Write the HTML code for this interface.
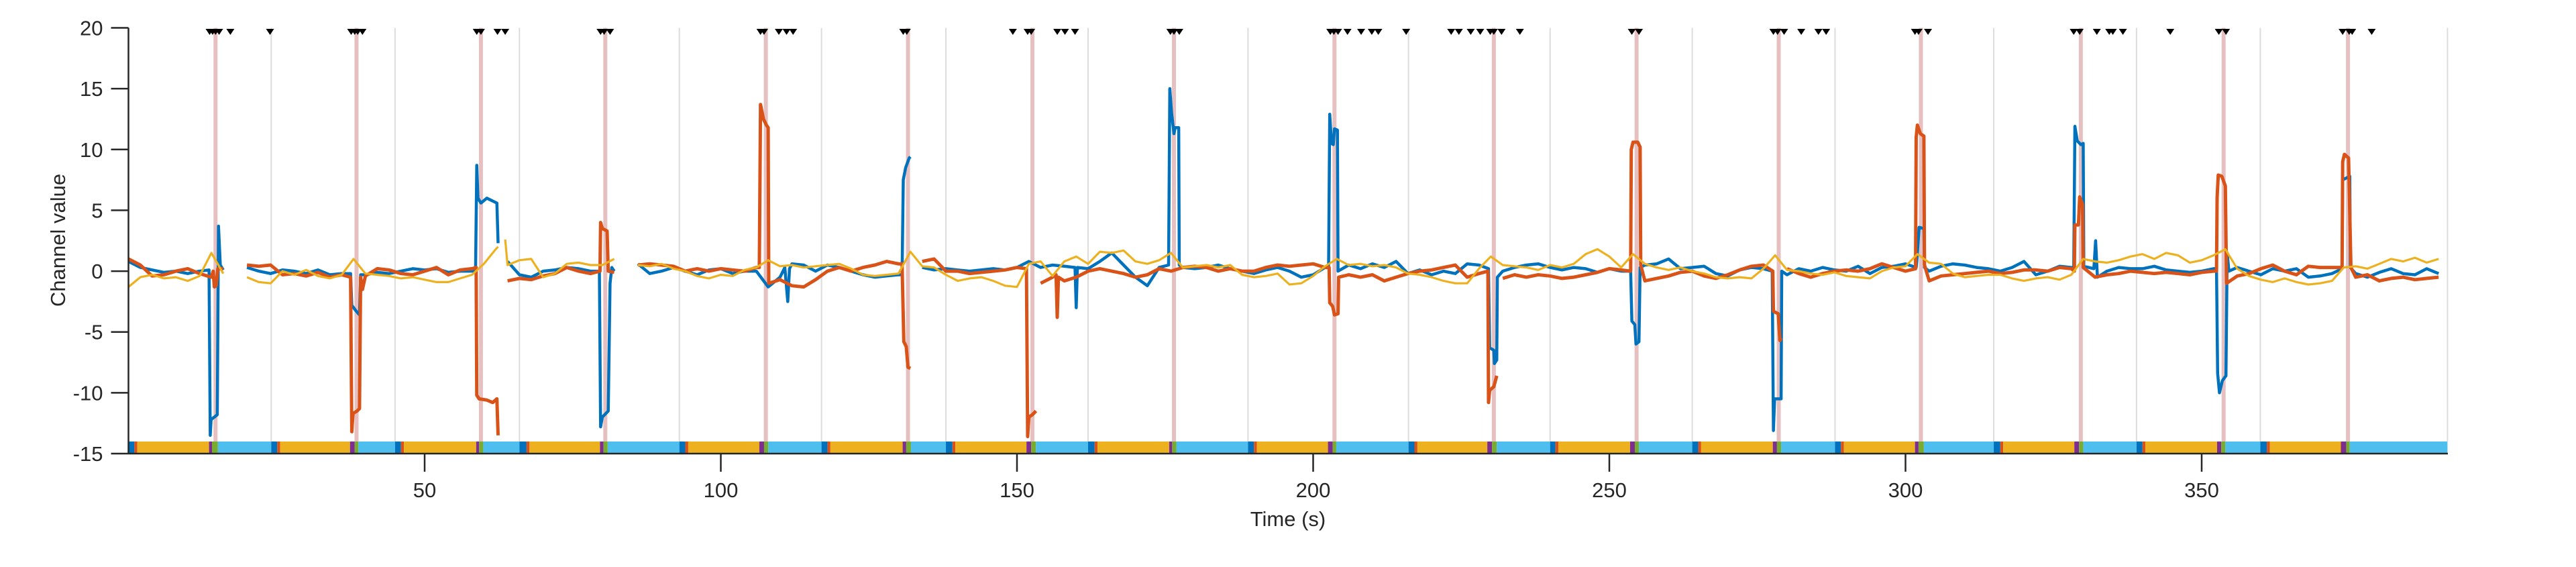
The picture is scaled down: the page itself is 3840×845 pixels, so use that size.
<!DOCTYPE html>
<html><head><meta charset="utf-8"><title>Channel value over time</title>
<style>
html,body{margin:0;padding:0;background:#fff;}
svg{display:block;}
text{font-family:"Liberation Sans",Arial,sans-serif;fill:#262626;}
</style></head>
<body>
<svg id="chart" width="3840" height="845" viewBox="0 0 3840 845" xmlns="http://www.w3.org/2000/svg">
<g id="grid"></g>
<g id="events"></g>
<g id="bar"></g>
<g id="series"></g>
<g id="markers"></g>
<g id="axes"></g>
<text x="0" y="0" font-size="31" text-anchor="middle" transform="translate(97,358) rotate(-90)">Channel value</text>
<text x="1920" y="784" font-size="31" text-anchor="middle">Time (s)</text>
</svg>
<script>
const xTicks = [50,100,150,200,250,300,350];
const yTicks = [-15,-10,-5,0,5,10,15,20];
const trialStart = [0,24.1,45.0,66.0,93.0,117.0,138.0,162.0,189.0,216.1,240.0,264.0,288.1,314.9,339.0,359.9];
const yellowStart = [1.5,25.6,46.5,67.7,94.5,118.5,139.6,163.6,190.5,217.6,241.4,265.5,289.6,316.5,340.5,361.5];
const purpleStart = [13.6,37.4,58.7,79.6,106.5,130.7,151.6,175.7,202.5,229.4,253.5,277.6,301.6,328.5,352.6,373.5];
const greenStart = [14.1,38.2,59.2,80.2,107.3,131.3,152.4,176.2,203.3,230.2,254.3,278.3,302.2,329.3,353.3,374.4];
const greenEnd = [15.1,38.8,59.9,80.9,108.0,132.1,153.2,176.9,203.9,231.0,255.0,279.0,303.1,330.0,354.0,375.0];
const eventTimes = [14.7,38.5,59.5,80.5,107.6,131.6,152.6,176.5,203.6,230.5,254.6,278.6,302.6,329.6,353.7,374.7];
const markerTimes = [13.7,14.2,14.7,15.3,17.2,23.9,37.6,38.2,38.7,39.5,58.8,59.5,62.3,63.6,79.7,80.3,81.3,106.7,107.3,109.8,111.1,112.2,130.8,131.4,149.3,151.8,152.4,156.8,158.1,159.8,175.9,176.5,177.4,202.9,203.5,204.2,205.8,208.1,209.9,211.0,215.7,223.3,224.6,226.6,228.2,229.9,230.5,231.8,234.9,253.8,255.0,277.7,278.4,279.5,282.4,285.3,286.6,301.6,302.2,303.8,328.4,329.4,332.3,334.4,335.0,336.7,344.7,352.9,354.1,373.8,374.9,375.4,378.7];
const tEnd = 391.5;
const baseStep = 2;
const blueBase = [0.8,0.3,0.1,-0.1,0.0,-0.2,0.0,0.0,0.1,-0.3,0.3,0.0,-0.2,0.1,0.0,-0.2,0.1,-0.3,-0.2,-0.2,-0.3,-0.1,-0.2,0.0,0.2,0.1,0.2,-0.1,0.0,0.0,0.0,0.0,0.8,-0.3,-0.5,0.0,0.1,0.3,0.2,0.0,0.0,0.0,0.8,0.6,-0.2,0.0,0.3,0.0,-0.3,0.1,0.2,-0.2,0.0,0.0,-1.3,-0.5,0.6,0.5,0.0,0.5,0.3,0.0,-0.3,-0.5,-0.4,-0.3,0.2,0.3,0.1,0.2,0.1,0.0,0.1,0.2,0.1,0.3,0.8,0.3,0.5,0.4,0.3,0.2,0.8,1.5,0.5,-0.5,-1.2,0.3,0.0,0.3,0.2,0.3,0.5,0.2,0.0,-0.2,0.1,0.3,0.0,-0.5,-0.3,0.3,0.0,0.5,0.2,0.6,0.3,0.8,-0.2,0.1,-0.3,0.0,-0.2,0.6,0.5,0.0,0.0,0.3,0.5,0.6,0.3,0.1,0.3,0.2,-0.1,0.2,0.0,0.0,0.5,0.6,1.0,0.2,0.3,0.4,-0.2,-0.4,0.1,0.3,0.2,0.0,-0.3,0.2,0.0,0.3,0.1,0.0,0.4,-0.2,0.3,0.4,0.6,0.0,0.0,0.4,0.6,0.5,0.3,0.2,0.0,0.3,0.8,-0.3,0.0,0.4,0.3,0.5,-0.5,0.0,0.3,0.2,0.2,0.4,0.1,0.0,-0.1,0.0,0.2,0.0,0.3,0.0,-0.3,0.2,0.0,0.2,-0.5,-0.4,-0.2,0.2,-0.2,-0.5,-0.1,0.2,-0.2,-0.3,0.2,-0.2];
const orangeBase = [1.0,0.5,-0.4,-0.3,0.0,0.2,-0.2,-0.5,0.2,0.0,0.5,0.4,0.5,-0.3,-0.2,-0.4,-0.1,-0.5,-0.3,-0.5,-0.4,0.2,0.1,-0.2,-0.3,0.0,0.3,-0.3,0.1,0.2,0.0,0.0,-0.8,-0.6,-0.7,-0.4,-0.2,0.3,0.0,-0.2,0.0,-0.1,-0.8,0.5,0.6,0.5,0.4,0.0,0.2,0.0,0.2,0.1,0.0,0.3,-1.0,-0.7,-1.2,-1.3,-0.7,0.0,0.3,0.0,0.3,0.5,0.8,0.6,-0.5,0.8,1.0,0.0,0.0,-0.2,-0.1,0.0,0.1,0.3,0.0,-1.0,-0.5,-0.8,-0.5,0.0,0.2,0.0,-0.2,-0.5,-0.3,0.2,0.0,0.3,0.4,0.3,0.0,0.2,0.0,0.0,0.3,0.5,0.4,0.5,0.6,0.3,-0.5,-0.3,-0.5,-0.3,-0.8,-0.5,-0.2,0.0,0.1,0.3,0.5,-0.5,-0.2,0.0,-0.6,-0.3,-0.5,-0.3,-0.4,-0.6,-0.5,-0.3,-0.1,0.2,0.1,0.0,-0.8,-0.6,-0.4,-0.1,0.0,-0.4,-0.6,-0.3,0.1,0.4,0.5,0.0,0.2,-0.2,-0.5,-0.2,0.0,0.1,0.0,0.2,0.6,0.3,0.0,0.0,-0.8,-0.4,-0.3,-0.2,-0.1,0.0,-0.2,-0.1,0.1,0.1,0.0,0.3,0.2,-0.6,-0.5,-0.3,-0.2,0.0,-0.1,-0.2,-0.1,-0.2,-0.3,-0.1,0.0,0.0,-0.4,-0.2,0.2,0.5,0.0,-0.3,0.4,0.3,0.3,0.0,-0.5,-0.3,-0.8,-0.6,-0.5,-0.7,-0.6,-0.5];
const yellowBase = [-1.3,-0.5,-0.3,-0.6,-0.5,-0.8,-0.4,1.5,-0.2,-0.3,-0.5,-0.9,-1.0,0.0,-0.3,0.1,-0.4,-0.6,-0.3,1.0,-0.2,-0.3,-0.4,-0.6,-0.5,-0.7,-0.9,-0.9,-0.6,-0.3,0.6,1.8,0.5,0.9,1.0,-0.5,-0.2,0.6,0.7,0.5,0.5,1.0,0.6,0.5,0.4,0.6,0.2,0.0,-0.4,-0.6,-0.3,-0.4,0.1,0.3,0.9,0.4,0.5,0.3,0.4,0.5,0.6,0.2,-0.3,-0.4,-0.3,-0.2,1.6,0.4,0.3,-0.3,-0.8,-0.6,-0.5,-0.8,-1.2,-1.3,0.6,0.8,-0.4,0.8,1.2,0.6,1.6,1.5,1.7,0.8,0.6,0.9,1.5,0.3,0.4,0.5,0.3,0.5,-0.3,-0.5,-0.4,-0.2,-1.1,-1.0,-0.4,0.4,1.0,0.5,0.6,0.4,0.5,0.3,-0.2,-0.3,-0.5,-0.8,-1.0,-1.0,0.2,1.2,0.5,0.4,0.3,0.1,0.5,0.3,0.6,1.4,1.8,1.2,0.3,1.4,0.6,0.3,0.1,0.3,0.0,-0.2,-0.5,-0.6,-0.5,-0.6,0.2,1.3,0.1,0.0,-0.2,-0.3,-0.1,-0.4,-0.5,-0.6,0.0,0.3,0.4,1.4,0.7,0.6,-0.2,-0.5,-0.4,-0.3,-0.3,-0.6,-0.8,-0.6,-0.5,-0.7,-0.3,1.0,0.8,0.7,0.9,1.2,1.4,1.0,1.5,1.3,0.7,0.9,1.3,1.8,0.2,-0.4,-0.7,-0.9,-0.6,-0.9,-1.1,-1.0,-0.8,0.3,0.4,0.2,0.6,1.0,0.8,1.1,0.7,1.0];
const blueSpikes = [
 [[13.6,0.1],[13.8,-13.5],[13.95,-12.2],[14.5,-12.0],[15.0,-11.8],[15.2,3.7],[15.5,0.5]],
 [[37.5,-0.2],[37.7,-2.8],[38.3,-3.2],[39.0,-3.6],[39.2,-0.3]],
 [[58.6,0.0],[58.8,8.7],[59.0,6.0],[59.5,5.6],[60.5,6.0],[62.2,5.6],[62.4,2.3],[62.5,null]],
 [[79.5,0.0],[79.7,-12.8],[80.0,-12.0],[81.0,-11.5],[81.3,-1.0],[81.6,0.3]],
 [[110.8,0.3],[111.3,-2.5],[111.6,0.2]],
 [[130.6,-0.3],[130.8,7.5],[131.2,8.5],[131.8,9.3],[132.0,9.4],[132.1,null]],
 [[159.8,0.3],[160.0,-3.0],[160.2,0.3]],
 [[175.6,0.5],[175.8,15.0],[176.1,13.0],[176.5,11.3],[176.7,11.8],[177.3,11.8],[177.4,0.5]],
 [[202.6,0.3],[202.8,12.9],[203.1,10.5],[203.4,10.4],[203.6,11.7],[204.1,11.6],[204.2,0.0]],
 [[229.6,0.2],[229.8,-6.3],[230.5,-6.5],[230.6,-7.6],[231.0,-7.3],[231.1,-0.5]],
 [[253.6,0.0],[253.8,-4.1],[254.3,-4.4],[254.5,-6.0],[255.0,-5.8],[255.2,0.3]],
 [[277.5,0.0],[277.7,-13.1],[277.9,-10.5],[279.0,-10.5],[279.1,0.0]],
 [[301.8,0.3],[301.9,0.8],[302.3,3.6],[303.1,3.5],[303.2,0.3]],
 [[328.4,0.3],[328.6,11.9],[329.0,10.7],[329.6,10.4],[330.0,10.5],[330.1,0.4]],
 [[331.8,0.2],[332.1,2.5],[332.4,-0.5]],
 [[352.5,0.2],[352.7,-8.4],[353.0,-10.0],[353.5,-9.0],[354.1,-8.6],[354.3,1.5],[354.6,0.0]],
 [[373.7,0.2],[373.8,7.5],[374.2,7.6],[375.0,7.8],[375.1,0.3]]
];
const orangeSpikes = [
 [[14.3,0.0],[14.5,-1.3],[14.8,-1.2],[15.1,0.2]],
 [[37.5,-0.5],[37.7,-13.2],[37.9,-11.7],[38.6,-11.5],[39.0,-11.3],[39.2,-0.5],[39.5,-1.5]],
 [[58.7,0.3],[58.8,-10.2],[59.2,-10.5],[60.5,-10.6],[61.5,-10.8],[62.2,-10.5],[62.4,-13.5],[62.5,null]],
 [[79.6,0.0],[79.7,4.0],[80.0,3.5],[80.8,3.3],[81.0,0.0]],
 [[106.5,0.3],[106.7,13.7],[107.2,12.5],[107.7,12.0],[108.0,11.8],[108.1,-1.0]],
 [[130.6,0.6],[130.9,-5.8],[131.3,-6.2],[131.6,-7.9],[132.0,-8.0],[132.1,null]],
 [[151.6,0.2],[151.8,-13.6],[152.0,-12.0],[152.6,-11.8],[153.2,-11.5],[153.3,null]],
 [[156.6,-0.3],[156.8,-3.8],[157.0,-0.5]],
 [[202.7,0.3],[202.8,-2.6],[203.3,-2.9],[203.6,-3.6],[204.2,-3.5],[204.3,-0.5]],
 [[229.5,0.0],[229.6,-10.8],[229.8,-9.8],[230.5,-9.5],[231.0,-8.6],[231.1,null]],
 [[253.6,0.0],[253.7,10.0],[254.0,10.6],[254.8,10.6],[255.2,10.2],[255.3,0.5]],
 [[277.6,0.0],[277.7,-3.3],[278.5,-3.5],[278.8,-5.7],[279.0,-5.5],[279.1,null]],
 [[301.7,0.2],[301.8,11.0],[302.0,12.0],[302.5,11.3],[303.1,11.1],[303.2,0.5]],
 [[328.5,0.0],[328.6,3.8],[329.2,3.8],[329.4,6.1],[329.9,5.5],[330.0,0.3]],
 [[352.5,0.0],[352.6,6.0],[352.8,7.9],[353.4,7.8],[354.0,7.0],[354.2,-1.0]],
 [[373.7,0.3],[373.8,9.0],[374.1,9.6],[374.8,9.3],[375.2,0.3]]
];
const yellowSpikes = [
 [[62.4,2.0],[62.6,null]],
 [[63.5,null],[63.6,2.6],[64.0,0.5]]
];
const gapStart = [17.6,82.6];
const gapEnd = [19.4,84.2];

const NS = "http://www.w3.org/2000/svg";
const X0 = 191.5, X1 = 3649, Y0 = 676, Y1 = 41.5;
const pxPerS = 8.83;
function xs(t){ return X0 + t * pxPerS; }
function ys(v){ return Y0 - (v + 15) * (Y0 - Y1) / 35; }
function mk(tag, attrs, parent){ const e = document.createElementNS(NS, tag); for (const k in attrs) e.setAttribute(k, attrs[k]); parent.appendChild(e); return e; }

const grid = document.getElementById('grid');
const barTop = 658;
trialStart.concat([tEnd]).forEach((t, i) => {
  if (t <= 0) return;
  const l = mk('line', {x1: xs(t), x2: xs(t), y1: Y1, y2: barTop, stroke: '#dcdcdc', 'stroke-width': 2}, grid);
  
  
});
const ev = document.getElementById('events');
eventTimes.forEach(t => {
  const l = mk('line', {x1: xs(t), x2: xs(t), y1: Y1, y2: barTop, stroke: '#e6bfc0', 'stroke-width': 6}, ev);
  
  
});
const bar = document.getElementById('bar');
function seg(a, b, c, name){
  const r = mk('rect', {x: xs(a), y: barTop, width: Math.max(0, xs(b) - xs(a)), height: Y0 - barTop, fill: c}, bar);
  
  
}
trialStart.forEach((s, i) => {
  const next = i + 1 < trialStart.length ? trialStart[i + 1] : tEnd;
  const redStart = yellowStart[i] - 0.5;
  seg(s, redStart, '#0072bd', 'phase-start');
  seg(redStart, yellowStart[i], '#d95319', 'phase-cue');
  seg(yellowStart[i], purpleStart[i], '#edb120', 'phase-hold');
  seg(purpleStart[i], greenStart[i], '#7e2f8e', 'phase-go');
  seg(greenStart[i], greenEnd[i], '#77ac30', 'phase-response');
  seg(greenEnd[i], next, '#4dbeee', 'phase-rest');
});

function buildPoints(base, spikes){
  const pts = [];
  base.forEach((v, i) => {
    const t = i * baseStep;
    if (t > tEnd) return;
    for (const sp of spikes) if (t >= sp[0][0] && t <= sp[sp.length - 1][0]) return;
    pts.push([t, v]);
  });
  spikes.forEach(sp => sp.forEach(p => pts.push(p)));
  gapStart.forEach(g => pts.push([g, null]));
  gapEnd.forEach(g => pts.push([g + 0.001, null]));
  pts.sort((a, b) => a[0] - b[0]);
  return pts.filter(p => !gapStart.some((g, k) => p[1] !== null && p[0] > g && p[0] < gapEnd[k]));
}
function pathFrom(pts){
  let d = '', pen = false;
  pts.forEach(p => {
    if (p[1] === null) { pen = false; return; }
    d += (pen ? 'L' : 'M') + xs(p[0]).toFixed(1) + ' ' + ys(p[1]).toFixed(1);
    pen = true;
  });
  return d;
}
const sg = document.getElementById('series');
const pb = mk('path', {d: pathFrom(buildPoints(blueBase, blueSpikes)), fill: 'none', stroke: '#0072bd', 'stroke-width': 4.5, 'stroke-linejoin': 'round'}, sg);


const po = mk('path', {d: pathFrom(buildPoints(orangeBase, orangeSpikes)), fill: 'none', stroke: '#d95319', 'stroke-width': 5, 'stroke-linejoin': 'round'}, sg);


const py = mk('path', {d: pathFrom(buildPoints(yellowBase, yellowSpikes)), fill: 'none', stroke: '#edb120', 'stroke-width': 3.2, 'stroke-linejoin': 'round'}, sg);



const mg = document.getElementById('markers');
markerTimes.forEach(t => {
  const x = xs(t);
  const tri = mk('polygon', {points: `${x-6},43 ${x+6},43 ${x},52`, fill: '#000'}, mg);
  
  
});

const ax = document.getElementById('axes');
const yl = mk('line', {x1: X0, x2: X0, y1: Y1, y2: Y0, stroke: '#262626', 'stroke-width': 2.5}, ax);


const xl = mk('line', {x1: X0, x2: X1, y1: Y0, y2: Y0, stroke: '#262626', 'stroke-width': 2.5}, ax);


yTicks.forEach(v => {
  const y = ys(v);
  const tk = mk('line', {x1: X0 - 26, x2: X0, y1: y, y2: y, stroke: '#262626', 'stroke-width': 2.5}, ax);
  
  
  const tx = mk('text', {x: X0 - 38, y: y + 11, 'font-size': 31, 'text-anchor': 'end'}, ax);
  tx.textContent = String(v);
  
  
});
xTicks.forEach(v => {
  const x = xs(v);
  const tk = mk('line', {x1: x, x2: x, y1: Y0, y2: Y0 + 27, stroke: '#262626', 'stroke-width': 2.5}, ax);
  
  
  const tx = mk('text', {x: x, y: 741, 'font-size': 31, 'text-anchor': 'middle'}, ax);
  tx.textContent = String(v);
  
  
});
</script>
</body></html>
